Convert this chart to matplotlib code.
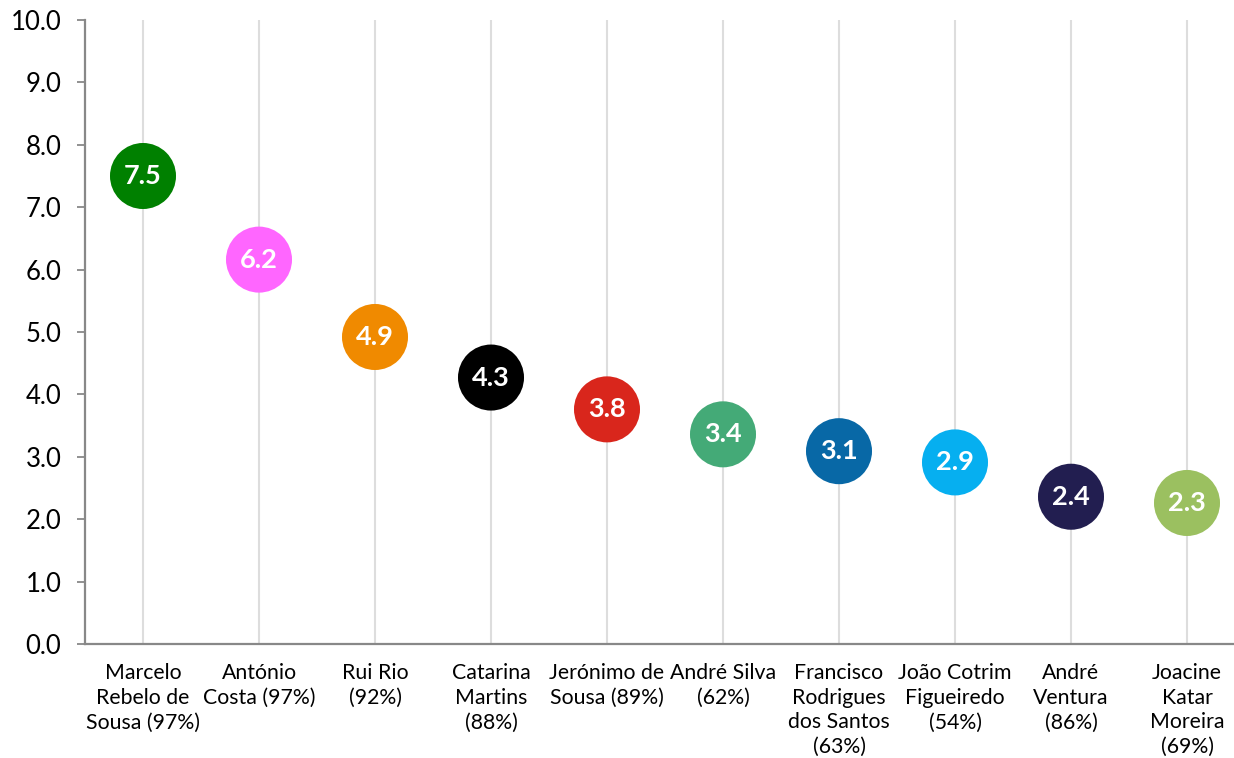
import matplotlib
matplotlib.use("Agg")
import matplotlib.pyplot as plt
import numpy as np

plt.rcParams['font.family'] = ['Lato', 'DejaVu Sans']

# candidates and their scores
names = [
    "Marcelo\nRebelo de\nSousa (97%)",
    "António\nCosta (97%)",
    "Rui Rio\n(92%)",
    "Catarina\nMartins\n(88%)",
    "Jerónimo de\nSousa (89%)",
    "André Silva\n(62%)",
    "Francisco\nRodrigues\ndos Santos\n(63%)",
    "João Cotrim\nFigueiredo\n(54%)",
    "André\nVentura\n(86%)",
    "Joacine\nKatar\nMoreira\n(69%)",
]
scores = [7.5, 6.16, 4.92, 4.27, 3.76, 3.36, 3.09, 2.91, 2.36, 2.26]
colors = ["#008000", "#ff66ff", "#f08a00", "#000000", "#d9261c",
          "#44aa77", "#0868a6", "#06aff0", "#221e50", "#9bc060"]

fig = plt.figure(figsize=(12.34, 7.58), dpi=100)
ax = fig.add_axes([85 / 1234, 1 - 644 / 758, 1160 / 1234, 624 / 758])

x = np.arange(len(names))

# vertical guide lines at each candidate
for xi in x:
    ax.axvline(xi, color="#dddddd", lw=1.5, zorder=1)

ax.scatter(x, scores, s=2260, c=colors, zorder=3, linewidths=0)
for xi, v in zip(x, scores):
    ax.text(xi, v, f"{v:.1f}", ha="center", va="center", color="white",
            fontsize=19.5, fontweight="bold", zorder=4)

ax.set_xlim(-0.5, len(names) - 0.5)
ax.set_ylim(0, 10)
ax.set_yticks(np.arange(0, 10.5, 1.0))
ax.set_yticklabels([f"{t:.1f}" for t in np.arange(0, 10.5, 1.0)], fontsize=18.5)
ax.set_xticks(x)
ax.set_xticklabels(names, fontsize=15.3, linespacing=1.28)

ax.tick_params(axis="y", direction="out", length=6, width=1.3, color="#888888", pad=11)
ax.tick_params(axis="x", length=0, pad=14)

for side in ["top", "right"]:
    ax.spines[side].set_visible(False)
for side in ["left", "bottom"]:
    ax.spines[side].set_color("#888888")
    ax.spines[side].set_linewidth(1.6)

fig.savefig("out.png", dpi=100)
